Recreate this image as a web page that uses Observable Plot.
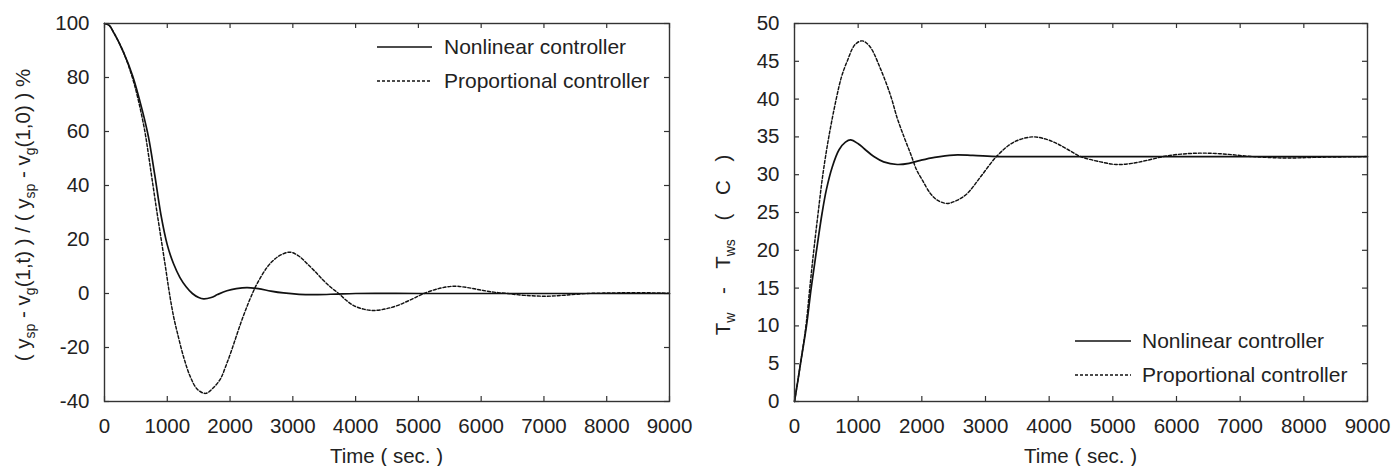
<!DOCTYPE html>
<html><head><meta charset="utf-8">
<script src="https://cdn.jsdelivr.net/npm/d3@7"></script>
<script src="https://cdn.jsdelivr.net/npm/@observablehq/plot@0.6"></script>
<style>
body{margin:0;background:#fff;}
#wrap{display:flex;width:1391px;height:466px;overflow:hidden;}
#wrap svg{display:block;max-width:none;}
</style>
</head><body><div id="wrap"></div>
<script>
// ---------- data ----------
const xTicks = [0,1000,2000,3000,4000,5000,6000,7000,8000,9000];
const yTicksLeft = [-40,-20,0,20,40,60,80,100];
const yTicksRight = [0,5,10,15,20,25,30,35,40,45,50];
const seriesNames = ["Nonlinear controller","Proportional controller"];

// left panel: normalised error (%)
const tLeftNL = [0,75,150,300,450,600,700,800,900,1000,1100,1200,1300,1400,1500,1580,1700,1800,1950,2100,2270,2450,2650,2850,3100,3400,3700,4000,5000,6000,7000,8000,9000];
const vLeftNL = [100,99.3,96.5,89.5,80.5,68,58,44,29,18,11,6,2.5,0,-1.5,-2,-1.5,-0.4,1,1.8,2.2,1.8,0.9,0.2,-0.3,-0.4,-0.2,0,0,0,0,0,0];
const tLeftP = [0,75,150,300,450,550,643,700,760,830,900,970,1035,1100,1160,1260,1370,1480,1610,1730,1850,1930,2010,2090,2170,2250,2330,2430,2590,2700,2810,2960,3100,3230,3360,3490,3610,3730,3850,3970,4130,4290,4480,4660,4870,5090,5320,5560,5780,5990,6200,6410,6700,7050,7350,7690,8100,8500,9000];
const vLeftP = [100,99.3,96.5,89.5,79.5,70.5,60,51.5,42,31,20.5,10,0,-8.5,-14.5,-23.5,-31,-35.5,-37,-35,-31.5,-27,-22,-16.5,-11,-6,-1.4,3.6,9.7,12.5,14.3,15.3,13.8,11,8,4.8,2.2,0,-2.5,-4.5,-5.8,-6.3,-5.7,-4.5,-2.4,0,1.8,2.7,2.2,1.3,0.5,0,-0.7,-1.0,-0.6,0,0.2,0.3,0.1];

// right panel: Tw - Tws (C)
const tRightNL = [0,50,94,188,262,346,435,500,592,700,800,880,1000,1100,1246,1400,1613,1800,1979,2200,2500,2800,3200,4000,5000,6000,7000,8000,9000];
const vRightNL = [0,2.6,5,10,15,20,25,28,31,33.3,34.3,34.6,34.1,33.4,32.4,31.7,31.35,31.5,31.9,32.3,32.6,32.55,32.4,32.4,32.4,32.4,32.4,32.4,32.4];
const tRightP = [0,94,180,240,303,372,445,539,655,740,827,950,1063,1180,1351,1508,1613,1720,1822,1920,2000,2136,2250,2398,2550,2712,2921,3183,3444,3733,3950,4126,4300,4492,4806,5050,5300,5539,5853,6200,6481,6800,7109,7400,7738,8200,9000];
const vRightP = [0,5,10,15,20,25,30,35,40,43,45,47.2,47.7,47,44,40.5,37.5,35,32.8,30.6,29.4,27.5,26.6,26.2,26.6,27.5,29.7,32.5,34.3,35,34.7,34.1,33.3,32.4,31.7,31.35,31.5,31.9,32.5,32.8,32.85,32.7,32.45,32.3,32.2,32.3,32.4];

const rows = (t, v) => t.map((d, i) => ({t: d, v: v[i]}));

// ---------- styling ----------
const FONT = "'Liberation Sans', Arial, Helvetica, sans-serif";
const INK = "#222";
const H = 466, MT = 23, MB = 65;
const TICK = 5;
const DASH = "3,2";

function panel({width, ml, mr, yDomain, yTicks, nl, p}) {
  const plotW = width - ml - mr, plotH = H - MT - MB;
  return Plot.plot({
    width, height: H,
    marginLeft: ml, marginRight: mr, marginTop: MT, marginBottom: MB,
    style: {fontFamily: FONT, fontSize: "20.5px", color: INK, background: "white", overflow: "visible"},
    x: {domain: [0, 9000], ticks: xTicks, tickSize: 0, tickPadding: 17, tickFormat: d => String(d), label: null},
    y: {domain: yDomain, ticks: yTicks, tickSize: 0, tickPadding: 15, tickFormat: d => String(d), label: null},
    marks: [
      Plot.tickX(xTicks, {x: d => d, insetTop: plotH - TICK, stroke: "#333", strokeWidth: 1.2}),
      Plot.tickX(xTicks, {x: d => d, insetBottom: plotH - TICK, stroke: "#333", strokeWidth: 1.2}),
      Plot.tickY(yTicks, {y: d => d, insetRight: plotW - TICK, stroke: "#333", strokeWidth: 1.2}),
      Plot.tickY(yTicks, {y: d => d, insetLeft: plotW - TICK, stroke: "#333", strokeWidth: 1.2}),
      Plot.line(p, {x: "t", y: "v", stroke: "#111", strokeWidth: 1.45, strokeDasharray: DASH, curve: "catmull-rom"}),
      Plot.line(nl, {x: "t", y: "v", stroke: "#111", strokeWidth: 1.7, curve: "catmull-rom"}),
      Plot.frame({stroke: "#333", strokeWidth: 1.4})
    ]
  });
}

function addLegend(svg, x1, x2, xt, y1, y2) {
  const g = d3.select(svg).append("g").attr("font-family", FONT).attr("font-size", "21px")
    .attr("fill", INK).attr("text-anchor", "start");
  [[y1, null, seriesNames[0]], [y2, DASH, seriesNames[1]]].forEach(([y, dash, name]) => {
    g.append("line").attr("x1", x1).attr("x2", x2).attr("y1", y).attr("y2", y)
      .attr("stroke", "#111").attr("stroke-width", dash ? 1.4 : 1.6).attr("stroke-dasharray", dash);
    g.append("text").attr("x", xt).attr("y", y).attr("dy", "0.35em").attr("text-anchor", "start").text(name);
  });
}

function addText(svg, x, y, rotate, parts, size, wordSpacing) {
  const t = d3.select(svg).append("text")
    .attr("transform", `translate(${x},${y})` + (rotate ? " rotate(-90)" : ""))
    .attr("text-anchor", "middle").attr("font-family", FONT).attr("font-size", size).attr("fill", INK)
    .style("white-space", "pre");
  if (wordSpacing) t.style("word-spacing", wordSpacing);
  parts.forEach(([s, sub], i) => {
    const ts = t.append("tspan").text(s);
    const prevSub = i > 0 && parts[i - 1][1];
    if (sub) ts.attr("font-size", "14px").attr("dy", "5px");
    else if (prevSub) ts.attr("dy", "-5px");
  });
  return t;
}

const wrap = document.getElementById("wrap");

const left = panel({width: 695, ml: 104, mr: 26, yDomain: [-40, 100], yTicks: yTicksLeft,
  nl: rows(tLeftNL, vLeftNL), p: rows(tLeftP, vLeftP)});
addLegend(left, 377, 432, 444, 47, 81);
addText(left, 30, 215, true, [["( y"],["sp",1],[" - v"],["g",1],["(1,t) ) / ( y"],["sp",1],[" - v"],["g",1],["(1,0) ) %"]], "20.5px");
addText(left, 386.5, 463, false, [["Time ( sec. )"]], "20.5px");
wrap.appendChild(left);

const right = panel({width: 696, ml: 99, mr: 24, yDomain: [0, 50], yTicks: yTicksRight,
  nl: rows(tRightNL, vRightNL), p: rows(tRightP, vRightP)});
addLegend(right, 380, 436, 447, 341, 375);
addText(right, 35, 245, true, [["T"],["w",1],[" - T"],["ws",1],[" ( C )"]], "20.5px", "13px");
addText(right, 385.5, 463, false, [["Time ( sec. )"]], "20.5px");
wrap.appendChild(right);
</script>
</body></html>
